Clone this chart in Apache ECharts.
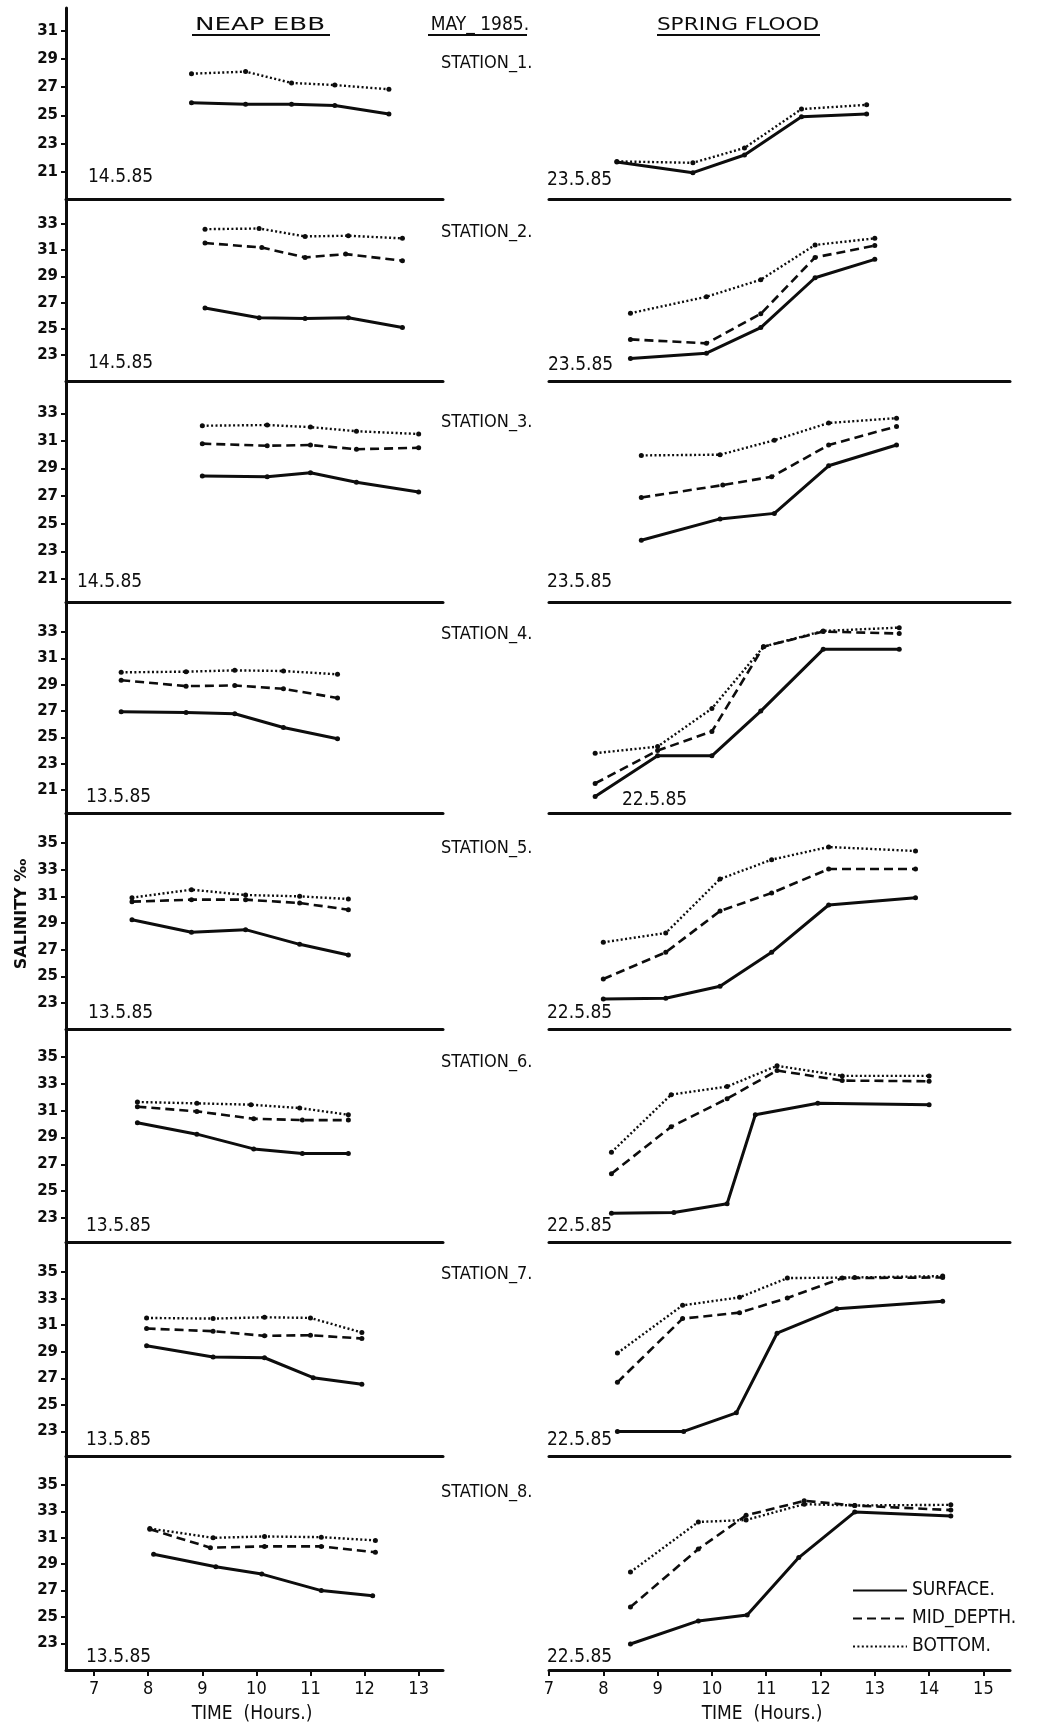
<!DOCTYPE html>
<html>
<head>
<meta charset="utf-8">
<title>Salinity — May 1985</title>
<script src="https://cdn.jsdelivr.net/npm/echarts@6/dist/echarts.min.js"></script>
<style>
  html, body { margin: 0; padding: 0; background: #ffffff; }
  #chart { width: 1044px; height: 1726px; }
</style>
</head>
<body>
<div id="chart"></div>
<script>
// Salinity (‰) against time of day at eight stations, May 1985.
// Left column: neap ebb; right column: spring flood.

const stationNames = ['STATION_1.', 'STATION_2.', 'STATION_3.', 'STATION_4.',
                      'STATION_5.', 'STATION_6.', 'STATION_7.', 'STATION_8.'];
const ebbDates   = ['14.5.85', '14.5.85', '14.5.85', '13.5.85', '13.5.85', '13.5.85', '13.5.85', '13.5.85'];
const floodDates = ['23.5.85', '23.5.85', '23.5.85', '22.5.85', '22.5.85', '22.5.85', '22.5.85', '22.5.85'];
const depthNames = ['SURFACE.', 'MID_DEPTH.', 'BOTTOM.'];

const ebbHourTicks   = [7, 8, 9, 10, 11, 12, 13];
const floodHourTicks = [7, 8, 9, 10, 11, 12, 13, 14, 15];
const salinityTicks = [
  [21, 23, 25, 27, 29, 31],
  [23, 25, 27, 29, 31, 33],
  [21, 23, 25, 27, 29, 31, 33],
  [21, 23, 25, 27, 29, 31, 33],
  [23, 25, 27, 29, 31, 33, 35],
  [23, 25, 27, 29, 31, 33, 35],
  [23, 25, 27, 29, 31, 33, 35],
  [23, 25, 27, 29, 31, 33, 35]
];

// [hour, salinity] readings
const s1EbbSurface   = [[8.8, 25.9], [9.8, 25.8], [10.65, 25.8], [11.45, 25.7], [12.45, 25.1]];
const s1EbbBottom    = [[8.8, 27.95], [9.8, 28.1], [10.65, 27.3], [11.45, 27.15], [12.45, 26.85]];
const s1FloodSurface = [[8.25, 21.7], [9.65, 20.95], [10.6, 22.2], [11.65, 24.9], [12.85, 25.1]];
const s1FloodBottom  = [[8.25, 21.75], [9.65, 21.65], [10.6, 22.7], [11.65, 25.45], [12.85, 25.75]];

const s2EbbSurface   = [[9.05, 26.6], [10.05, 25.85], [10.9, 25.8], [11.7, 25.85], [12.7, 25.1]];
const s2EbbMid       = [[9.05, 31.55], [10.1, 31.2], [10.9, 30.45], [11.65, 30.7], [12.7, 30.2]];
const s2EbbBottom    = [[9.05, 32.6], [10.05, 32.65], [10.9, 32.05], [11.7, 32.1], [12.7, 31.9]];
const s2FloodSurface = [[8.5, 22.75], [9.9, 23.15], [10.9, 25.1], [11.9, 28.9], [13.0, 30.3]];
const s2FloodMid     = [[8.5, 24.2], [9.9, 23.9], [10.9, 26.15], [11.9, 30.45], [13.0, 31.35]];
const s2FloodBottom  = [[8.5, 26.2], [9.9, 27.45], [10.9, 28.75], [11.9, 31.4], [13.0, 31.9]];

const s3EbbSurface   = [[9.0, 28.45], [10.2, 28.4], [11.0, 28.7], [11.85, 28.0], [13.0, 27.3]];
const s3EbbMid       = [[9.0, 30.8], [10.2, 30.65], [11.0, 30.7], [11.85, 30.4], [13.0, 30.5]];
const s3EbbBottom    = [[9.0, 32.1], [10.2, 32.15], [11.0, 32.0], [11.85, 31.7], [13.0, 31.5]];
const s3FloodSurface = [[8.7, 23.8], [10.15, 25.35], [11.15, 25.75], [12.15, 29.2], [13.4, 30.7]];
const s3FloodMid     = [[8.7, 26.9], [10.2, 27.8], [11.1, 28.4], [12.15, 30.7], [13.4, 32.05]];
const s3FloodBottom  = [[8.7, 29.95], [10.15, 30.0], [11.15, 31.05], [12.15, 32.3], [13.4, 32.65]];

const s4EbbSurface   = [[7.5, 26.95], [8.7, 26.9], [9.6, 26.8], [10.5, 25.75], [11.5, 24.9]];
const s4EbbMid       = [[7.5, 29.35], [8.7, 28.9], [9.6, 28.95], [10.5, 28.7], [11.5, 28.0]];
const s4EbbBottom    = [[7.5, 29.95], [8.7, 30.0], [9.6, 30.1], [10.5, 30.05], [11.5, 29.8]];
const s4FloodSurface = [[7.85, 20.5], [9.0, 23.6], [10.0, 23.6], [10.9, 27.0], [12.05, 31.7], [13.45, 31.7]];
const s4FloodMid     = [[7.85, 21.5], [9.0, 24.0], [10.0, 25.45], [10.95, 31.9], [12.05, 33.05], [13.45, 32.9]];
const s4FloodBottom  = [[7.85, 23.8], [9.0, 24.3], [10.0, 27.2], [10.95, 31.9], [12.05, 33.1], [13.45, 33.35]];

const s5EbbSurface   = [[7.7, 29.25], [8.8, 28.3], [9.8, 28.5], [10.8, 27.4], [11.7, 26.6]];
const s5EbbMid       = [[7.7, 30.6], [8.8, 30.75], [9.8, 30.75], [10.8, 30.5], [11.7, 30.0]];
const s5EbbBottom    = [[7.7, 30.9], [8.8, 31.5], [9.8, 31.1], [10.8, 31.0], [11.7, 30.8]];
const s5FloodSurface = [[8.0, 23.3], [9.15, 23.35], [10.15, 24.25], [11.1, 26.8], [12.15, 30.35], [13.75, 30.9]];
const s5FloodMid     = [[8.0, 24.8], [9.15, 26.8], [10.15, 29.9], [11.1, 31.25], [12.15, 33.05], [13.75, 33.05]];
const s5FloodBottom  = [[8.0, 27.55], [9.15, 28.25], [10.15, 32.3], [11.1, 33.75], [12.15, 34.7], [13.75, 34.4]];

const s6EbbSurface   = [[7.8, 30.1], [8.9, 29.25], [9.95, 28.15], [10.85, 27.8], [11.7, 27.8]];
const s6EbbMid       = [[7.8, 31.3], [8.9, 30.95], [9.95, 30.4], [10.85, 30.3], [11.7, 30.3]];
const s6EbbBottom    = [[7.8, 31.65], [8.9, 31.55], [9.9, 31.45], [10.8, 31.2], [11.7, 30.7]];
const s6FloodSurface = [[8.15, 23.35], [9.3, 23.4], [10.28, 24.05], [10.8, 30.7], [11.95, 31.55], [14.0, 31.45]];
const s6FloodMid     = [[8.15, 26.3], [9.25, 29.8], [10.28, 31.9], [11.2, 34.0], [12.4, 33.25], [14.0, 33.2]];
const s6FloodBottom  = [[8.15, 27.9], [9.25, 32.2], [10.28, 32.8], [11.2, 34.35], [12.4, 33.6], [14.0, 33.6]];

const s7EbbSurface   = [[7.97, 29.45], [9.2, 28.6], [10.15, 28.55], [11.05, 27.05], [11.95, 26.55]];
const s7EbbMid       = [[7.97, 30.75], [9.2, 30.55], [10.15, 30.2], [11.0, 30.25], [11.95, 30.0]];
const s7EbbBottom    = [[7.97, 31.55], [9.2, 31.5], [10.15, 31.6], [11.0, 31.55], [11.95, 30.45]];
const s7FloodSurface = [[8.26, 23.0], [9.48, 23.0], [10.45, 24.4], [11.2, 30.4], [12.3, 32.25], [14.25, 32.8]];
const s7FloodMid     = [[8.26, 26.7], [9.46, 31.5], [10.51, 31.95], [11.39, 33.05], [12.4, 34.55], [14.25, 34.6]];
const s7FloodBottom  = [[8.26, 28.9], [9.46, 32.5], [10.51, 33.1], [11.39, 34.55], [12.63, 34.6], [14.25, 34.7]];

const s8EbbSurface   = [[8.1, 29.75], [9.25, 28.8], [10.1, 28.25], [11.2, 27.0], [12.15, 26.6]];
const s8EbbMid       = [[8.03, 31.65], [9.15, 30.25], [10.15, 30.35], [11.2, 30.35], [12.2, 29.9]];
const s8EbbBottom    = [[8.03, 31.7], [9.2, 31.0], [10.15, 31.1], [11.2, 31.05], [12.2, 30.8]];
const s8FloodSurface = [[8.5, 22.95], [9.75, 24.7], [10.65, 25.15], [11.6, 29.5], [12.63, 32.95], [14.4, 32.65]];
const s8FloodMid     = [[8.5, 25.75], [9.75, 30.15], [10.63, 32.7], [11.7, 33.8], [12.63, 33.45], [14.4, 33.1]];
const s8FloodBottom  = [[8.5, 28.4], [9.75, 32.2], [10.63, 32.35], [11.7, 33.55], [12.63, 33.45], [14.4, 33.5]];

// per station: [surface, mid-depth, bottom] for each tide
const ebbSets = [
  [s1EbbSurface, null, s1EbbBottom],
  [s2EbbSurface, s2EbbMid, s2EbbBottom],
  [s3EbbSurface, s3EbbMid, s3EbbBottom],
  [s4EbbSurface, s4EbbMid, s4EbbBottom],
  [s5EbbSurface, s5EbbMid, s5EbbBottom],
  [s6EbbSurface, s6EbbMid, s6EbbBottom],
  [s7EbbSurface, s7EbbMid, s7EbbBottom],
  [s8EbbSurface, s8EbbMid, s8EbbBottom]
];
const floodSets = [
  [s1FloodSurface, null, s1FloodBottom],
  [s2FloodSurface, s2FloodMid, s2FloodBottom],
  [s3FloodSurface, s3FloodMid, s3FloodBottom],
  [s4FloodSurface, s4FloodMid, s4FloodBottom],
  [s5FloodSurface, s5FloodMid, s5FloodBottom],
  [s6FloodSurface, s6FloodMid, s6FloodBottom],
  [s7FloodSurface, s7FloodMid, s7FloodBottom],
  [s8FloodSurface, s8FloodMid, s8FloodBottom]
];

// ---- layout ----
const INK = '#0d0d0d';
const FONT = "'DejaVu Sans Condensed', 'Liberation Sans Narrow', 'DejaVu Sans', sans-serif";
const rowEdges = [8, 199, 381, 602, 813, 1029, 1242, 1456, 1670];
const salinityExtent = [
  [19.09, 32.6], [21.03, 34.9], [19.33, 35.34], [19.25, 35.3],
  [21.05, 37.25], [21.2, 37.1], [21.15, 37.27], [20.98, 37.2]
];
const columns = [
  { left: 66,  width: 377, min: 6.48, max: 13.45, ticks: ebbHourTicks,   sets: ebbSets,   dates: ebbDates },
  { left: 549, width: 461, min: 7.0,  max: 15.49, ticks: floodHourTicks, sets: floodSets, dates: floodDates }
];
const depthLine = [
  { type: 'solid', width: 3 },
  { type: [9, 5], width: 2.6 },
  { type: [2, 2.4], width: 2.4 }
];

const grid = [], xAxis = [], yAxis = [], series = [];

for (let r = 0; r < 8; r++) {
  const top = rowEdges[r], bottom = rowEdges[r + 1];
  const lastRow = r === 7;
  columns.forEach((col, c) => {
    const gi = grid.length;
    grid.push({ left: col.left, top: top, width: col.width, height: bottom - top, containLabel: false });
    xAxis.push({
      type: 'value', gridIndex: gi, min: col.min, max: col.max,
      splitLine: { show: false },
      axisLine: { show: true, onZero: false, lineStyle: { color: INK, width: 3 } },
      axisTick: { show: lastRow, customValues: col.ticks, length: 6, lineStyle: { color: INK, width: 2 } },
      axisLabel: {
        show: lastRow, customValues: col.ticks, margin: 10,
        color: INK, fontFamily: FONT, fontSize: 18
      }
    });
    yAxis.push({
      type: 'value', gridIndex: gi, show: c === 0,
      min: salinityExtent[r][0], max: salinityExtent[r][1],
      splitLine: { show: false },
      axisLine: { show: true, onZero: false, lineStyle: { color: INK, width: 3 } },
      axisTick: { show: true, customValues: salinityTicks[r], length: 5, lineStyle: { color: INK, width: 2 } },
      axisLabel: {
        customValues: salinityTicks[r], margin: 8,
        color: INK, fontFamily: "'DejaVu Sans', sans-serif", fontWeight: 'bold', fontSize: 15
      }
    });
    col.sets[r].forEach((pts, d) => {
      if (!pts) return;
      series.push({
        type: 'line', name: depthNames[d], xAxisIndex: gi, yAxisIndex: gi,
        data: pts, symbol: 'circle', symbolSize: 5, showSymbol: true,
        itemStyle: { color: INK },
        lineStyle: { color: INK, width: depthLine[d].width, type: depthLine[d].type },
        emphasis: { disabled: true }, silent: true, z: 3
      });
    });
  });
}

// ---- captions ----
const stationY = [63, 232, 422, 634, 848, 1062, 1274, 1492];
const ebbDateX = [88, 88, 77, 86, 88, 86, 86, 86];
const ebbDateY = [177, 363, 582, 797, 1013, 1226, 1440, 1657];
const floodDateX = [547, 548, 547, 622, 547, 547, 547, 547];
const floodDateY = [180, 365, 582, 800, 1013, 1226, 1440, 1657];

function txt(text, x, y, o) {
  o = o || {};
  return {
    type: 'text', x: x, y: y, z: 10, silent: true,
    rotation: o.rotation || 0, scaleX: o.scaleX || 1,
    style: {
      text: text, fill: INK,
      font: (o.weight || 'normal') + ' ' + (o.size || 18) + 'px ' + (o.family || FONT),
      textAlign: o.align || 'left', textVerticalAlign: 'middle'
    }
  };
}
function rule(x1, x2, y) {
  return { type: 'line', z: 10, silent: true, shape: { x1: x1, y1: y, x2: x2, y2: y },
           style: { stroke: INK, lineWidth: 2 } };
}

const graphic = [
  txt('NEAP EBB', 260, 25, { align: 'center', size: 18, scaleX: 1.45, family: "'DejaVu Sans', sans-serif" }),
  rule(192, 330, 35),
  txt('MAY_ 1985.', 480, 25, { align: 'center', size: 19 }),
  rule(428, 527, 35),
  txt('SPRING FLOOD', 738, 25, { align: 'center', size: 18, scaleX: 1.2, family: "'DejaVu Sans', sans-serif" }),
  rule(657, 820, 35),
  txt('SALINITY ‰', 22, 914, { align: 'center', size: 16, weight: 'bold', rotation: Math.PI / 2,
                             family: "'DejaVu Sans', sans-serif" }),
  txt('TIME  (Hours.)', 252, 1714, { align: 'center', size: 19 }),
  txt('TIME  (Hours.)', 762, 1714, { align: 'center', size: 19 })
];
for (let r = 0; r < 8; r++) {
  graphic.push(txt(stationNames[r], 441, stationY[r], { size: 18 }));
  graphic.push(txt(ebbDates[r], ebbDateX[r], ebbDateY[r], { size: 19 }));
  graphic.push(txt(floodDates[r], floodDateX[r], floodDateY[r], { size: 19 }));
}

const chart = echarts.init(document.getElementById('chart'), null, { renderer: 'canvas' });
chart.setOption({
  backgroundColor: '#ffffff',
  animation: false,
  grid: grid,
  xAxis: xAxis,
  yAxis: yAxis,
  series: series,
  legend: {
    data: depthNames, orient: 'vertical', left: 847, top: 1574,
    itemWidth: 54, itemHeight: 12, itemGap: 5, selectedMode: false,
    itemStyle: { opacity: 0 },
    textStyle: { color: INK, fontFamily: FONT, fontSize: 19, lineHeight: 23 }
  },
  graphic: graphic
});
</script>
</body>
</html>
